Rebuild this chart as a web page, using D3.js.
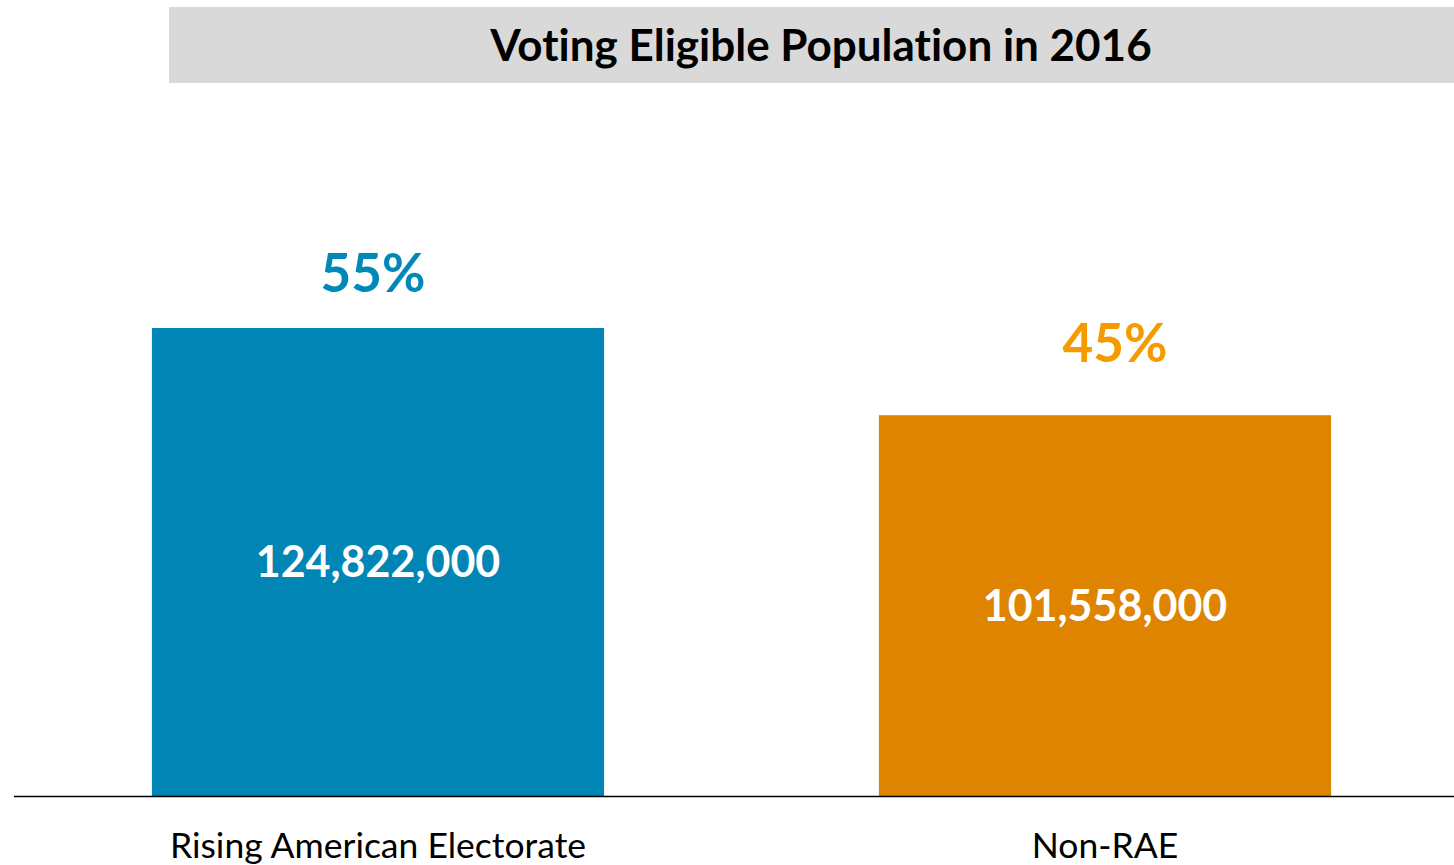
<!DOCTYPE html>
<html>
<head>
<meta charset="utf-8">
<script src="https://cdn.jsdelivr.net/npm/d3@7"></script>
<style>
  body { margin: 0; background: #fff; }
  svg { display: block; font-family: Lato, "Open Sans", sans-serif; font-variant-ligatures: none; }
</style>
</head>
<body>
<div id="chart"></div>
<script>
var categories = ["Rising American Electorate", "Non-RAE"];
var population = [124822000, 101558000];
var shares = ["55%", "45%"];
var barColors = ["#0085b5", "#df8400"];
var shareColors = ["#0088b8", "#f59b00"];

var width = 1454, height = 865;
var baseY = 796;

var svg = d3.select("#chart")
  .append("svg")
    .attr("width", width)
    .attr("height", height);

// title bar
svg.append("rect")
  .attr("x", 169)
  .attr("y", 7)
  .attr("width", width - 169)
  .attr("height", 76)
  .attr("fill", "#d9d9d9");

svg.append("text")
  .attr("x", 821)
  .attr("y", 46)
  .attr("dy", "0.35em")
  .attr("text-anchor", "middle")
  .style("font-size", "44px")
  .style("font-weight", "bold")
  .attr("fill", "#000")
  .text("Voting Eligible Population in 2016");

var x = d3.scaleBand()
  .domain(categories)
  .range([14.5, 1468.5])
  .paddingInner(0.378)
  .paddingOuter(0.189);

var y = d3.scaleLinear()
  .domain([0, 140000000])
  .range([baseY, baseY - 140 * 3.7494]);

var data = categories.map(function (c, i) {
  return {cat: c, value: population[i], share: shares[i], i: i};
});

// bars
svg.append("g")
  .selectAll("rect")
  .data(data)
  .enter()
  .append("rect")
    .attr("x", function (d) { return x(d.cat); })
    .attr("y", function (d) { return y(d.value); })
    .attr("width", x.bandwidth())
    .attr("height", function (d) { return y(0) - y(d.value); })
    .attr("fill", function (d) { return barColors[d.i]; });

// value inside bar
svg.append("g")
  .selectAll("text")
  .data(data)
  .enter()
  .append("text")
    .attr("x", function (d) { return x(d.cat) + x.bandwidth() / 2; })
    .attr("y", function (d) { return (y(d.value) + y(0)) / 2; })
    .attr("dy", "0.35em")
    .attr("text-anchor", "middle")
    .style("font-size", "43px")
    .style("font-weight", "bold")
    .attr("fill", "#fff")
    .text(function (d) { return d3.format(",")(d.value); });

// share above bar (labels were hand-placed in the original)
var nudgeX = [-5, 10], nudgeY = [-36, -53];
svg.append("g")
  .selectAll("text")
  .data(data)
  .enter()
  .append("text")
    .attr("x", function (d) { return x(d.cat) + x.bandwidth() / 2 + nudgeX[d.i]; })
    .attr("y", function (d) { return y(d.value) + nudgeY[d.i]; })
    .attr("text-anchor", "middle")
    .style("font-size", "53px")
    .style("font-weight", "bold")
    .attr("fill", function (d) { return shareColors[d.i]; })
    .text(function (d) { return d.share; });

// axis line
svg.append("line")
  .attr("x1", 14)
  .attr("x2", width)
  .attr("y1", baseY + 0.5)
  .attr("y2", baseY + 0.5)
  .attr("stroke", "#000")
  .attr("stroke-width", 1.3);

// category labels
svg.append("g")
  .selectAll("text")
  .data(data)
  .enter()
  .append("text")
    .attr("x", function (d) { return x(d.cat) + x.bandwidth() / 2; })
    .attr("y", 858)
    .attr("text-anchor", "middle")
    .style("font-size", "35.5px")
    .attr("fill", "#000")
    .text(function (d) { return d.cat; });
</script>
</body>
</html>
